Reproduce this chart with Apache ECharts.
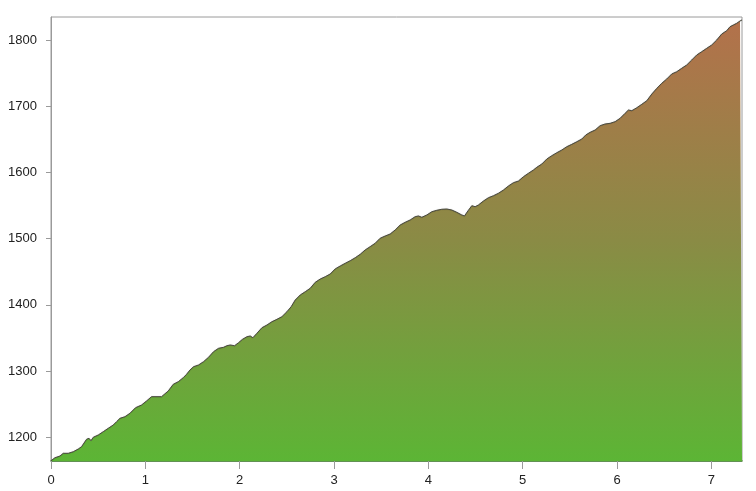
<!DOCTYPE html>
<html>
<head>
<meta charset="utf-8">
<script src="https://cdn.jsdelivr.net/npm/echarts@6/dist/echarts.min.js"></script>
<style>html,body{margin:0;padding:0;background:#fff}#c{width:756px;height:491px}</style>
</head>
<body>
<div id="c"></div>
<script>
const distances = [0, 0.042, 0.095, 0.130, 0.183, 0.236, 0.289, 0.324, 0.377, 0.403, 0.424, 0.448, 0.501, 0.554, 0.607, 0.660, 0.695, 0.731, 0.784, 0.837, 0.896, 0.960, 1.013, 1.066, 1.172, 1.190, 1.243, 1.296, 1.349, 1.402, 1.437, 1.473, 1.511, 1.564, 1.617, 1.670, 1.723, 1.776, 1.829, 1.865, 1.900, 1.946, 1.988, 2.030, 2.077, 2.112, 2.140, 2.183, 2.236, 2.289, 2.342, 2.395, 2.448, 2.501, 2.546, 2.589, 2.642, 2.695, 2.748, 2.801, 2.854, 2.907, 2.960, 3.012, 3.066, 3.119, 3.172, 3.225, 3.278, 3.330, 3.383, 3.436, 3.489, 3.542, 3.595, 3.648, 3.701, 3.754, 3.807, 3.860, 3.895, 3.931, 3.984, 4.037, 4.090, 4.143, 4.196, 4.249, 4.302, 4.355, 4.383, 4.420, 4.461, 4.496, 4.531, 4.584, 4.637, 4.690, 4.743, 4.796, 4.849, 4.902, 4.955, 5.008, 5.061, 5.114, 5.150, 5.203, 5.256, 5.309, 5.362, 5.415, 5.468, 5.521, 5.574, 5.627, 5.669, 5.715, 5.768, 5.821, 5.874, 5.927, 5.980, 6.033, 6.086, 6.121, 6.157, 6.210, 6.263, 6.316, 6.369, 6.422, 6.474, 6.527, 6.580, 6.633, 6.686, 6.739, 6.792, 6.845, 6.898, 6.951, 7.004, 7.057, 7.110, 7.163, 7.198, 7.233, 7.269, 7.304, 7.325];
const elevations = [1164.4, 1168.9, 1171.5, 1175.6, 1175.6, 1178.0, 1182.1, 1185.6, 1196.8, 1198.3, 1194.7, 1199.8, 1203.3, 1208.3, 1213.4, 1218.4, 1223.4, 1228.5, 1230.9, 1236.1, 1244.5, 1248.6, 1254.7, 1261.2, 1261.2, 1260.3, 1269.8, 1279.9, 1283.8, 1289.9, 1295.0, 1301.5, 1306.5, 1309.1, 1314.1, 1320.7, 1329.2, 1334.3, 1335.8, 1338.2, 1339.3, 1338.2, 1342.8, 1347.9, 1351.8, 1352.9, 1350.3, 1357.0, 1365.4, 1369.5, 1374.5, 1378.1, 1382.1, 1389.6, 1397.2, 1407.3, 1414.9, 1419.8, 1425.0, 1434.0, 1439.0, 1442.5, 1446.6, 1454.2, 1458.7, 1462.8, 1466.7, 1471.2, 1476.4, 1482.9, 1487.9, 1493.0, 1500.6, 1504.0, 1507.0, 1513.1, 1520.6, 1524.7, 1528.2, 1533.2, 1534.3, 1532.3, 1535.8, 1540.7, 1542.9, 1544.4, 1544.8, 1543.3, 1539.8, 1535.8, 1534.3, 1542.0, 1549.8, 1548.3, 1550.9, 1556.9, 1561.9, 1564.9, 1568.6, 1573.5, 1579.6, 1584.6, 1587.1, 1593.6, 1598.8, 1603.8, 1607.9, 1612.8, 1620.4, 1625.4, 1629.9, 1634.0, 1639.0, 1642.6, 1646.5, 1650.6, 1656.7, 1660.7, 1664.2, 1670.7, 1673.3, 1674.3, 1676.8, 1681.9, 1689.5, 1694.4, 1693.4, 1697.9, 1703.1, 1708.5, 1718.6, 1727.2, 1734.8, 1741.3, 1748.9, 1752.3, 1757.5, 1762.5, 1770.0, 1777.6, 1782.6, 1787.7, 1792.7, 1800.2, 1809.3, 1814.3, 1820.3, 1822.9, 1825.5, 1829.0, 1830.5];
const xTicks = [0, 1, 2, 3, 4, 5, 6, 7];
const yTicks = [1200, 1300, 1400, 1500, 1600, 1700, 1800];

const chart = echarts.init(document.getElementById('c'), null, {renderer: 'canvas'});
const pts = distances.map((d, i) => [d, elevations[i]]);
chart.setOption({
  animation: false,
  backgroundColor: '#ffffff',
  grid: {left: 51, right: 14, top: 17, bottom: 30, show: true, borderColor: '#9a9a9a', borderWidth: 1, backgroundColor: 'transparent'},
  xAxis: {
    type: 'value', min: 0, max: 7.325,
    axisLine: {show: true, lineStyle: {color: '#3f7d2c', width: 1.5}},
    axisTick: {show: true, length: 8, customValues: xTicks, lineStyle: {color: '#9a9a9a'}},
    axisLabel: {customValues: xTicks, margin: 13, fontFamily: 'Liberation Sans, Arial, sans-serif', fontSize: 13, color: '#222', formatter: v => String(v)},
    splitLine: {show: false}
  },
  yAxis: {
    type: 'value', min: 1164, max: 1835,
    axisLine: {show: true, lineStyle: {color: '#9a9a9a'}},
    axisTick: {show: true, length: 5, customValues: yTicks, lineStyle: {color: '#9a9a9a'}},
    axisLabel: {customValues: yTicks, margin: 14, fontFamily: 'Liberation Sans, Arial, sans-serif', fontSize: 13, color: '#222', formatter: v => String(v)},
    splitLine: {show: false}
  },
  series: [{
    type: 'line',
    data: pts,
    showSymbol: false,
    smooth: false,
    lineStyle: {color: '#4a4a3e', width: 1, shadowBlur: 1, shadowColor: 'rgba(0,0,0,0.25)'},
    areaStyle: {
      opacity: 1,
      color: new echarts.graphic.LinearGradient(0, 0, 0, 1, [
        {offset: 0, color: '#b3714b'},
        {offset: 0.5, color: '#8a8b45'},
        {offset: 1, color: '#5cb535'}
      ])
    }
  }]
});
</script>
</body>
</html>
